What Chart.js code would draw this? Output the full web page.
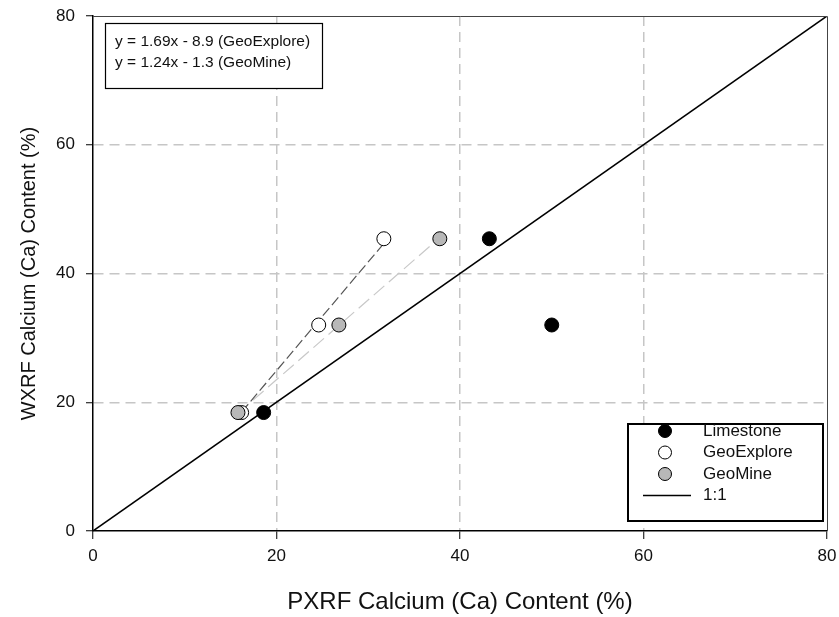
<!DOCTYPE html>
<html>
<head>
<meta charset="utf-8">
<script src="https://cdn.jsdelivr.net/npm/chart.js@4.4.1/dist/chart.umd.min.js"></script>
<style>
  html, body { margin: 0; padding: 0; background: #fff; }
  #wrap { width: 839px; height: 617px; }
</style>
</head>
<body>
<div id="wrap"><canvas id="calciumChart" width="839" height="617"></canvas></div>
<script>
// PXRF vs WXRF calcium readings per instrument
const seriesNames = ['Limestone', 'GeoExplore', 'GeoMine'];
const limestoneX = [18.6, 43.2, 50.0];
const limestoneY = [18.4, 45.4, 32.0];
const geoExploreX = [16.2, 24.6, 31.7];
const geoExploreY = [18.4, 32.0, 45.4];
const geoMineX = [15.8, 26.8, 37.8];
const geoMineY = [18.4, 32.0, 45.4];

// regression lines (slope, intercept) and the x span they cover
const fitNames = ['GeoExplore', 'GeoMine'];
const fitSlopes = [1.69, 1.24];
const fitIntercepts = [-8.9, -1.3];
const fitFromX = [16.2, 15.8];
const fitToX = [31.7, 37.8];

const oneToOneX = [0, 80];
const axisMin = 0;
const axisMax = 80;
const axisStep = 20;

const FONT = "'Liberation Sans', Arial, Helvetica, sans-serif";

function toPoints(xs, ys) {
    return xs.map((x, i) => ({ x: x, y: ys[i] }));
}

function fitLine(i) {
    const xs = [fitFromX[i], fitToX[i]];
    return xs.map(x => ({ x: x, y: fitSlopes[i] * x + fitIntercepts[i] }));
}

function fitLabel(i) {
    const b = fitIntercepts[i];
    const sign = b < 0 ? '-' : '+';
    return 'y = ' + fitSlopes[i].toFixed(2) + 'x ' + sign + ' ' + Math.abs(b).toFixed(1) + ' (' + fitNames[i] + ')';
}

const markerFill = ['#000000', '#ffffff', '#b8b8b8'];

// frame, equation box and legend box drawn on top of the plot
const boxesPlugin = {
    id: 'boxes',
    afterDraw(chart) {
        const ctx = chart.ctx;
        const a = chart.chartArea;
        ctx.save();

        // top and right frame lines
        ctx.strokeStyle = '#444';
        ctx.lineWidth = 1;
        ctx.beginPath();
        ctx.moveTo(a.left, a.top + 0.5);
        ctx.lineTo(a.right + 0.5, a.top + 0.5);
        ctx.lineTo(a.right + 0.5, a.bottom);
        ctx.stroke();

        // equation box
        ctx.fillStyle = '#fff';
        ctx.fillRect(105, 23, 217, 65);
        ctx.strokeStyle = '#000';
        ctx.lineWidth = 1.2;
        ctx.strokeRect(105.5, 23.5, 217, 65);
        ctx.fillStyle = '#111';
        ctx.font = '15.5px ' + FONT;
        ctx.textBaseline = 'middle';
        ctx.textAlign = 'left';
        ctx.fillText(fitLabel(0), 115, 42);
        ctx.fillText(fitLabel(1), 115, 63);

        // legend box
        ctx.fillStyle = '#fff';
        ctx.fillRect(628, 424, 195, 97);
        ctx.strokeStyle = '#000';
        ctx.lineWidth = 2;
        ctx.strokeRect(628, 424, 195, 97);

        ctx.font = '17px ' + FONT;
        const rowY = [431, 452.5, 474, 495.5];
        seriesNames.forEach((name, i) => {
            ctx.beginPath();
            ctx.arc(665, rowY[i], 6.5, 0, Math.PI * 2);
            ctx.fillStyle = markerFill[i];
            ctx.fill();
            ctx.lineWidth = 1;
            ctx.strokeStyle = '#000';
            ctx.stroke();
            ctx.fillStyle = '#111';
            ctx.fillText(name, 703, rowY[i]);
        });
        ctx.beginPath();
        ctx.moveTo(643, rowY[3]);
        ctx.lineTo(691, rowY[3]);
        ctx.lineWidth = 1.5;
        ctx.strokeStyle = '#000';
        ctx.stroke();
        ctx.fillStyle = '#111';
        ctx.fillText('1:1', 703, rowY[3]);

        ctx.restore();
    }
};

const gridColor = (c) => (c.tick && (c.tick.value === axisMin || c.tick.value === axisMax)) ? 'rgba(0,0,0,0)' : '#c6c6c6';

new Chart(document.getElementById('calciumChart'), {
    type: 'scatter',
    data: {
        datasets: [
            {
                label: '1:1',
                data: toPoints(oneToOneX, oneToOneX),
                showLine: true,
                borderColor: '#000',
                borderWidth: 1.5,
                pointRadius: 0,
                order: 6
            },
            {
                label: fitNames[1] + ' fit',
                data: fitLine(1),
                showLine: true,
                borderColor: '#c8c8c8',
                borderWidth: 1.2,
                borderDash: [14, 6],
                pointRadius: 0,
                order: 5
            },
            {
                label: fitNames[0] + ' fit',
                data: fitLine(0),
                showLine: true,
                borderColor: '#555',
                borderWidth: 1.2,
                borderDash: [10, 4],
                pointRadius: 0,
                order: 4
            },
            {
                label: seriesNames[1],
                data: toPoints(geoExploreX, geoExploreY),
                pointRadius: 7,
                pointBackgroundColor: markerFill[1],
                pointBorderColor: '#000',
                pointBorderWidth: 1,
                order: 3
            },
            {
                label: seriesNames[2],
                data: toPoints(geoMineX, geoMineY),
                pointRadius: 7,
                pointBackgroundColor: markerFill[2],
                pointBorderColor: '#000',
                pointBorderWidth: 1,
                order: 2
            },
            {
                label: seriesNames[0],
                data: toPoints(limestoneX, limestoneY),
                pointRadius: 7,
                pointBackgroundColor: markerFill[0],
                pointBorderColor: '#000',
                pointBorderWidth: 1,
                order: 1
            }
        ]
    },
    options: {
        responsive: false,
        animation: false,
        layout: { padding: { top: 16, right: 12, left: 0, bottom: 0 } },
        plugins: {
            legend: { display: false },
            tooltip: { enabled: false }
        },
        scales: {
            x: {
                type: 'linear',
                min: axisMin,
                max: axisMax,
                afterFit: (s) => { s.height = 86; s.paddingLeft = 0; s.paddingRight = 0; },
                ticks: {
                    stepSize: axisStep,
                    padding: 7,
                    color: '#111',
                    font: { family: FONT, size: 17 }
                },
                grid: {
                    color: gridColor,
                    lineWidth: 1.5,
                    tickColor: '#000',
                    tickLength: 8,
                    tickWidth: 1
                },
                border: { color: '#000', width: 1.5, dash: [10, 6] },
                title: {
                    display: true,
                    text: 'PXRF Calcium (Ca) Content (%)',
                    color: '#111',
                    font: { family: FONT, size: 24 },
                    padding: { top: 0, bottom: 0 }
                }
            },
            y: {
                type: 'linear',
                min: axisMin,
                max: axisMax,
                afterFit: (s) => { s.width = 93; s.paddingTop = 0; s.paddingBottom = 0; },
                ticks: {
                    stepSize: axisStep,
                    padding: 11,
                    color: '#111',
                    font: { family: FONT, size: 17 }
                },
                grid: {
                    color: gridColor,
                    lineWidth: 1.5,
                    tickColor: '#000',
                    tickLength: 7,
                    tickWidth: 1
                },
                border: { color: '#000', width: 1.5, dash: [10, 6] },
                title: {
                    display: true,
                    text: 'WXRF Calcium (Ca) Content (%)',
                    color: '#111',
                    font: { family: FONT, size: 20 },
                    padding: { top: 17, bottom: 0 }
                }
            }
        }
    },
    plugins: [boxesPlugin]
});
</script>
</body>
</html>
